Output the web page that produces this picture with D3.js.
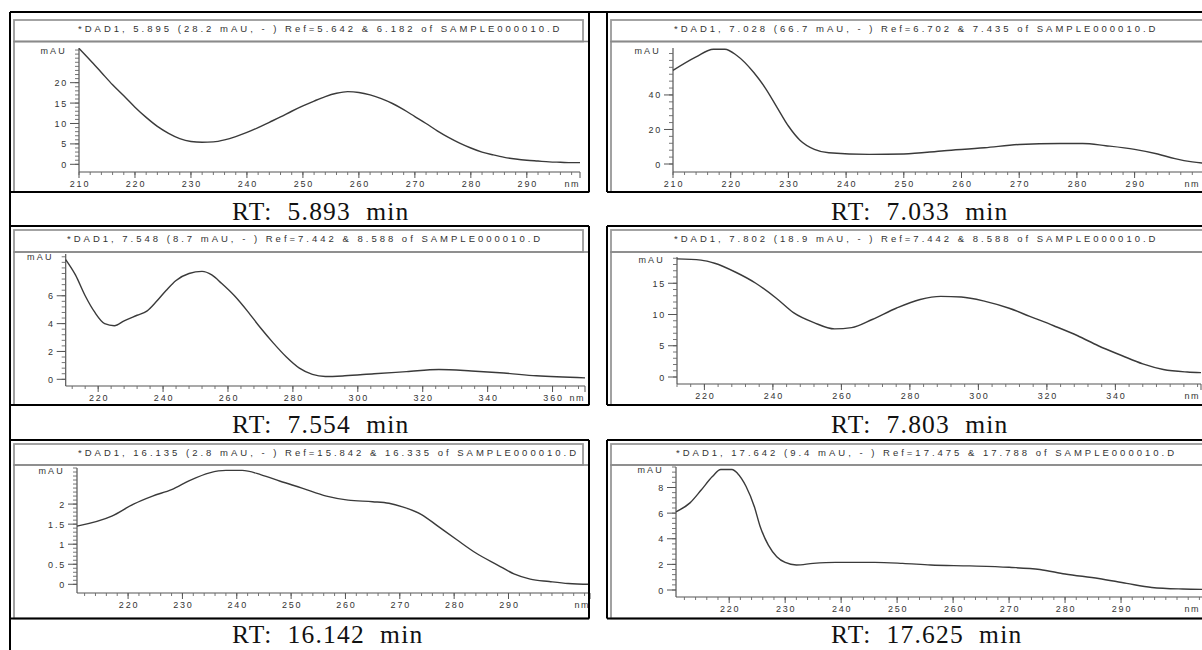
<!DOCTYPE html>
<html>
<head>
<meta charset="utf-8">
<script src="https://cdn.jsdelivr.net/npm/d3@7"></script>
<style>
  body { margin: 0; background: #fff; }
  svg text { font-family: Arial, "Liberation Sans", sans-serif; }
  .cap { font-family: "Liberation Serif", "Times New Roman", serif; white-space: pre; }
</style>
</head>
<body>
<div id="chart"></div>
<script>
var width = 1202, height = 650;

const nm1  = [210, 212, 214, 216, 218, 220, 222, 224, 226, 228, 230, 232, 234, 236, 238, 240, 242, 244, 246, 248, 250, 252, 254, 256, 258, 260, 262, 264, 266, 268, 270, 272, 274, 276, 278, 280, 282, 284, 286, 288, 290, 292, 294, 296, 298, 299.5];
const mau1 = [28.4, 25.5, 22.5, 19.5, 16.8, 14.0, 11.5, 9.3, 7.6, 6.3, 5.6, 5.4, 5.5, 6.0, 6.8, 7.8, 9.0, 10.3, 11.6, 13.0, 14.3, 15.5, 16.6, 17.4, 17.8, 17.6, 17.0, 16.1, 14.9, 13.4, 11.7, 10.0, 8.2, 6.6, 5.2, 4.0, 3.0, 2.3, 1.7, 1.3, 1.0, 0.8, 0.6, 0.5, 0.4, 0.4];

const nm2  = [210, 214, 217, 219, 221, 224, 226, 228, 230, 232, 234.5, 237, 244, 250, 257, 264, 270, 277, 281, 285, 290, 294, 297, 300, 302.2];
const mau2 = [54.2, 62, 66.5, 66.5, 63, 53, 44, 33, 22, 13.8, 8.5, 6.5, 5.6, 5.8, 7.7, 9.4, 11.3, 11.9, 11.9, 10.6, 8.5, 5.8, 3.1, 1.2, 0.4];

const nm3  = [210, 213, 216, 219, 222, 225, 228, 232, 235, 238, 241, 244, 248, 252, 255, 258, 262, 266, 270, 274, 278, 282, 286, 290, 296, 305, 315, 325, 335, 345, 355, 370];
const mau3 = [8.6, 7.5, 6.0, 4.8, 4.0, 3.85, 4.2, 4.6, 4.9, 5.6, 6.4, 7.1, 7.6, 7.75, 7.5, 6.9, 6.0, 4.9, 3.7, 2.6, 1.6, 0.8, 0.35, 0.2, 0.25, 0.4, 0.55, 0.7, 0.6, 0.45, 0.25, 0.1];

const nm4  = [212, 219, 223, 229, 235, 241, 246, 252, 258, 263, 269, 276, 283, 289, 295, 302, 309, 315, 322, 329, 335, 342, 348, 354, 361, 365];
const mau4 = [18.9, 18.7, 18.2, 16.8, 15.0, 12.6, 10.3, 8.7, 7.7, 7.9, 9.2, 11.0, 12.4, 12.9, 12.8, 12.1, 11.0, 9.7, 8.2, 6.6, 5.0, 3.4, 2.1, 1.2, 0.8, 0.7];

const nm5  = [210.6, 217, 221, 224.5, 228, 231.5, 235, 238, 241, 244.5, 248, 252, 256.5, 260.5, 265, 268, 270.5, 274, 277, 280.5, 284, 288, 291, 294, 297.5, 301, 305];
const mau5 = [1.45, 1.7, 2.0, 2.2, 2.36, 2.6, 2.78, 2.84, 2.84, 2.73, 2.57, 2.4, 2.2, 2.1, 2.06, 2.02, 1.93, 1.74, 1.45, 1.11, 0.78, 0.48, 0.26, 0.13, 0.07, 0.02, 0.0];

const nm6  = [210.5, 213, 215, 217, 218.5, 220.5, 221.5, 223, 224.5, 225.5, 227, 228.5, 230, 232, 235, 239, 246, 251, 256, 263, 270, 275.5, 280, 286, 291, 295.5, 301, 305];
const mau6 = [6.1, 6.8, 7.8, 8.85, 9.4, 9.4, 9.1, 8.1, 6.5, 5.0, 3.5, 2.6, 2.15, 1.95, 2.08, 2.16, 2.16, 2.08, 1.95, 1.88, 1.77, 1.6, 1.25, 0.9, 0.52, 0.2, 0.08, 0.05];

// --- tick labels ---
const xTicks1 = [210, 220, 230, 240, 250, 260, 270, 280, 290];
const xTicks2 = [210, 220, 230, 240, 250, 260, 270, 280, 290];
const xTicks3 = [220, 240, 260, 280, 300, 320, 340, 360];
const xTicks4 = [220, 240, 260, 280, 300, 320, 340];
const xTicks5 = [220, 230, 240, 250, 260, 270, 280, 290];
const xTicks6 = [220, 230, 240, 250, 260, 270, 280, 290];

const yTicks1 = [0, 5, 10, 15, 20];
const yTicks2 = [0, 20, 40];
const yTicks3 = [0, 2, 4, 6];
const yTicks4 = [0, 5, 10, 15];
const yTicks5 = [0, 0.5, 1, 1.5, 2];
const yTicks6 = [0, 2, 4, 6, 8];

const titles = [
  "*DAD1, 5.895 (28.2 mAU, - ) Ref=5.642 & 6.182 of SAMPLE000010.D",
  "*DAD1, 7.028 (66.7 mAU, - ) Ref=6.702 & 7.435 of SAMPLE000010.D",
  "*DAD1, 7.548 (8.7 mAU, - ) Ref=7.442 & 8.588 of SAMPLE000010.D",
  "*DAD1, 7.802 (18.9 mAU, - ) Ref=7.442 & 8.588 of SAMPLE000010.D",
  "*DAD1, 16.135 (2.8 mAU, - ) Ref=15.842 & 16.335 of SAMPLE000010.D",
  "*DAD1, 17.642 (9.4 mAU, - ) Ref=17.475 & 17.788 of SAMPLE000010.D"
];
const captions = ["RT:  5.893  min", "RT:  7.033  min", "RT:  7.554  min",
                  "RT:  7.803  min", "RT:  16.142  min", "RT:  17.625  min"];

const panels = [
  {nm: nm1, mau: mau1, xTicks: xTicks1, xMinor: 2, yTicks: yTicks1, yMinor: 1},
  {nm: nm2, mau: mau2, xTicks: xTicks2, xMinor: 2, yTicks: yTicks2, yMinor: 4},
  {nm: nm3, mau: mau3, xTicks: xTicks3, xMinor: 4, yTicks: yTicks3, yMinor: 0.4},
  {nm: nm4, mau: mau4, xTicks: xTicks4, xMinor: 4, yTicks: yTicks4, yMinor: 1},
  {nm: nm5, mau: mau5, xTicks: xTicks5, xMinor: 2, yTicks: yTicks5, yMinor: 0.1},
  {nm: nm6, mau: mau6, xTicks: xTicks6, xMinor: 2, yTicks: yTicks6, yMinor: 0.4}
];

// geometry of each pasted screenshot (pixels)
const rows = [
  {top: 12,  titleTop: 20,  plotTop: 41.5, bottom: 192},
  {top: 226, titleTop: 230, plotTop: 252,  bottom: 405},
  {top: 440, titleTop: 444, plotTop: 465,  bottom: 618.5}
];
const cols = [{x0: 10, x1: 589, capX: 232}, {x0: 607, x1: 1215, capX: 831}];
const layout = [
  {titleX: 78,  nmRange: [210, 299.5], px: [79, 580],   mauMax: 28.5, py: [164.3, 48],  axisY: 172},
  {titleX: 674, nmRange: [210, 302.2], px: [673, 1205], mauMax: 67.2, py: [164, 48],    axisY: 172},
  {titleX: 67,  nmRange: [210, 370],   px: [65.7, 585], mauMax: 9.0,  py: [379.3, 254], axisY: 386},
  {titleX: 674, nmRange: [212, 365],   px: [677, 1201], mauMax: 19.2, py: [377, 257],   axisY: 384},
  {titleX: 78,  nmRange: [210.6, 305], px: [77, 590],   mauMax: 2.9,  py: [584.3, 468], axisY: 593},
  {titleX: 676, nmRange: [210.5, 305], px: [676, 1205], mauMax: 9.6,  py: [590, 467],   axisY: 597}
];

const svg = d3.select("#chart").append("svg")
    .attr("width", width)
    .attr("height", height);

const ink = "#3a3a3a", txt = "#333";

panels.forEach(function(p, i) {
  const row = rows[Math.floor(i / 2)], col = cols[i % 2], L = layout[i];
  const g = svg.append("g");

  // gray ChemStation frames
  g.append("rect")
      .attr("x", col.x0 + 4).attr("y", row.titleTop)
      .attr("width", col.x1 - col.x0 - 10).attr("height", row.plotTop - row.titleTop)
      .attr("fill", "none").attr("stroke", "#9a9a9a").attr("stroke-width", 1.8);
  g.append("rect")
      .attr("x", col.x0 + 4).attr("y", row.plotTop)
      .attr("width", col.x1 - col.x0 - 4).attr("height", row.bottom - row.plotTop)
      .attr("fill", "none").attr("stroke", "#8a8a8a").attr("stroke-width", 1.6);

  g.append("text")
      .attr("x", L.titleX).attr("y", row.titleTop + 11.5)
      .attr("font-size", 9.5).attr("letter-spacing", 3)
      .attr("fill", txt)
      .text(titles[i]);

  const x = d3.scaleLinear().domain(L.nmRange).range(L.px);
  const y = d3.scaleLinear().domain([0, L.mauMax]).range(L.py);
  const ax = L.px[0];

  // y axis
  g.append("line").attr("x1", ax).attr("x2", ax)
      .attr("y1", L.axisY).attr("y2", L.py[1])
      .attr("stroke", "#555").attr("stroke-width", 1.2);
  g.selectAll(".ymin").data(d3.range(0, L.mauMax + 1e-9, p.yMinor)).join("line")
      .attr("x1", ax - 4).attr("x2", ax)
      .attr("y1", d => y(d)).attr("y2", d => y(d))
      .attr("stroke", "#666").attr("stroke-width", 0.9);
  g.selectAll(".ymaj").data(p.yTicks).join("line")
      .attr("x1", ax - 9).attr("x2", ax)
      .attr("y1", d => y(d)).attr("y2", d => y(d))
      .attr("stroke", "#555").attr("stroke-width", 1);
  g.selectAll(".ylab").data(p.yTicks).join("text")
      .attr("x", ax - 11).attr("y", d => y(d) + 3.5)
      .attr("text-anchor", "end")
      .attr("font-size", 9).attr("letter-spacing", 1.8).attr("fill", txt)
      .text(d => d);
  g.append("text")
      .attr("x", ax - 12).attr("y", L.py[1] + 5.5)
      .attr("text-anchor", "end")
      .attr("font-size", 9).attr("letter-spacing", 2.2).attr("fill", txt)
      .text("mAU");

  // x axis
  g.append("line").attr("x1", ax).attr("x2", L.px[1])
      .attr("y1", L.axisY).attr("y2", L.axisY)
      .attr("stroke", "#555").attr("stroke-width", 1.2);
  const minor = d3.range(Math.ceil(L.nmRange[0] / p.xMinor) * p.xMinor, L.nmRange[1], p.xMinor);
  g.selectAll(".xmin").data(minor).join("line")
      .attr("x1", d => x(d)).attr("x2", d => x(d))
      .attr("y1", L.axisY).attr("y2", L.axisY + 3)
      .attr("stroke", "#666").attr("stroke-width", 0.9);
  g.selectAll(".xmaj").data(p.xTicks.concat([L.nmRange[1]])).join("line")
      .attr("x1", d => x(d)).attr("x2", d => x(d))
      .attr("y1", L.axisY).attr("y2", L.axisY + 6)
      .attr("stroke", "#555").attr("stroke-width", 1);
  g.selectAll(".xlab").data(p.xTicks).join("text")
      .attr("x", d => x(d) + 1).attr("y", L.axisY + 15)
      .attr("text-anchor", "middle")
      .attr("font-size", 9).attr("letter-spacing", 1.8).attr("fill", txt)
      .text(d => d);
  g.append("text")
      .attr("x", Math.min(L.px[1], width - 2)).attr("y", L.axisY + 15)
      .attr("text-anchor", "end")
      .attr("font-size", 9).attr("letter-spacing", 1.5).attr("fill", txt)
      .text("nm");

  // spectrum
  const pts = p.nm.map((d, k) => [d, p.mau[k]]);
  g.append("path")
      .datum(pts)
      .attr("fill", "none")
      .attr("stroke", ink)
      .attr("stroke-width", 1.4)
      .attr("d", d3.line().x(d => x(d[0])).y(d => y(d[1])).curve(d3.curveMonotoneX));

  // caption under the screenshot
  svg.append("text")
      .attr("class", "cap")
      .attr("x", col.capX).attr("y", Math.min(row.bottom + 28, height - 7))
      .attr("font-size", 25.5).attr("letter-spacing", 1.2).attr("fill", "#111")
      .text(captions[i]);
});

// black table rules
const rules = svg.append("g").attr("stroke", "#000").attr("stroke-width", 2);
rules.append("line").attr("x1", 10).attr("x2", width).attr("y1", 12).attr("y2", 12);
rules.append("line").attr("x1", 10).attr("x2", 10).attr("y1", 12).attr("y2", height);
rows.forEach(function(r, k) {
  cols.forEach(function(c) {
    rules.append("line").attr("x1", c.x0).attr("x2", Math.min(c.x1, width))
        .attr("y1", r.bottom).attr("y2", r.bottom);
    if (k > 0) rules.append("line").attr("x1", c.x0).attr("x2", Math.min(c.x1, width))
        .attr("y1", r.top).attr("y2", r.top);
  });
  rules.append("line").attr("x1", cols[0].x1).attr("x2", cols[0].x1)
      .attr("y1", r.top).attr("y2", r.bottom);
  rules.append("line").attr("x1", cols[1].x0).attr("x2", cols[1].x0)
      .attr("y1", r.top).attr("y2", r.bottom);
});
</script>
</body>
</html>
